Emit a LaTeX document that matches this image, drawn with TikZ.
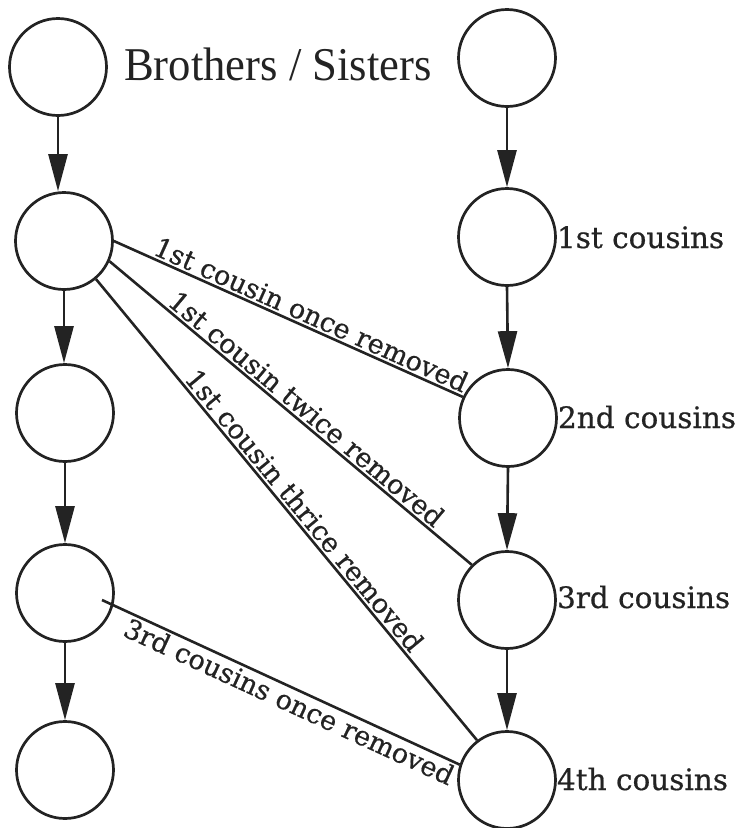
\documentclass[tikz,border=0pt]{standalone}
\usepackage{fontspec}
\setmainfont{DejaVu Serif}
\newfontfamily\bsfont{Liberation Serif}
\newfontfamily\lblfont[FakeBold=0.6]{DejaVu Serif}
\usetikzlibrary{arrows.meta}
\definecolor{ink}{RGB}{35,35,35}
\begin{document}
\begin{tikzpicture}[x=1pt,y=-1pt,
  person/.style={circle, draw=ink, line width=2.7pt, minimum size=97pt, inner sep=0pt},
  downarrow/.style={draw=ink, line width=2.6pt, -{Triangle[length=37pt,width=19pt]}},
  rel/.style={draw=ink, line width=2.6pt},
  rlabel/.style={font=\lblfont\fontsize{27}{30}\selectfont, text=ink, sloped, inner sep=2pt},
  gen/.style={font=\lblfont\fontsize{29.5}{32}\selectfont, text=ink, anchor=base west, inner sep=0pt}]
\useasboundingbox (0,0) rectangle (748,828);
% left column
\node[person] (L1) at (58,67) {};
\node[person] (L2) at (64,241) {};
\node[person] (L3) at (65,413) {};
\node[person] (L4) at (65,593) {};
\node[person] (L5) at (65,770) {};
% right column
\node[person] (R1) at (507,58) {};
\node[person] (R2) at (507,237) {};
\node[person] (R3) at (508,418) {};
\node[person] (R4) at (507,600) {};
\node[person] (R5) at (507,780) {};
% texts
\node[anchor=base west, inner sep=0pt, text=ink, font=\bsfont\fontsize{47}{50}\selectfont] (bs) at (124,80) {\scalebox{0.95}[1]{Brothers / Sisters}};
\node[gen] (g1) at ([yshift=-11pt]R2.east) {1st cousins};
\node[gen] (g2) at ([yshift=-10pt]R3.east) {2nd cousins};
\node[gen] (g3) at ([yshift=-8pt]R4.east) {3rd cousins};
\node[gen] (g4) at ([yshift=-10pt]R5.east) {4th cousins};
% vertical arrows
\draw[downarrow] (L1.south) -- (L1.south |- L2.north);
\draw[downarrow] (L2.south) -- (L2.south |- L3.north);
\draw[downarrow] (L3.south) -- (L3.south |- L4.north);
\draw[downarrow] (L4.south) -- (L4.south |- L5.north);
\draw[downarrow] (R1.south) -- (R2.north);
\draw[downarrow] (R2.south) -- (R3.north);
\draw[downarrow] (R3.south) -- (R4.north);
\draw[downarrow] (R4.south) -- (R5.north);
% relation lines
\draw[rel] (L2.east) -- node[rlabel, above, pos=0.55] {1st cousin once removed} (R3.155);
\draw[rel] (L2.-24) -- node[rlabel, above, pos=0.52] {1st cousin twice removed} (R4.135);
\draw[rel] (L2.-50) -- node[rlabel, above, pos=0.52] {1st cousin thrice removed} (R5.127);
\coordinate (s4) at (102,600);
\draw[rel] (s4) -- node[rlabel, below, pos=0.54] {3rd cousins once removed} (R5.162);
\end{tikzpicture}
\end{document}
